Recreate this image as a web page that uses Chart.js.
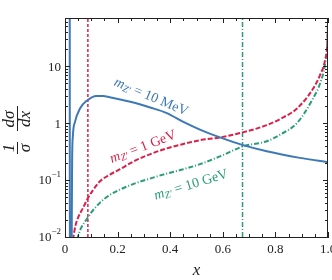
<!DOCTYPE html>
<html>
<head>
<meta charset="utf-8">
<script src="https://cdn.jsdelivr.net/npm/chart.js@4/dist/chart.umd.min.js"></script>
<style>
  html, body { margin: 0; padding: 0; background: #fff; }
</style>
</head>
<body>
<canvas id="chart" width="332" height="280"></canvas>
<script>
// m_Z' = 10 MeV
const blueX = [0.018, 0.0185, 0.024, 0.0255, 0.027, 0.030, 0.038, 0.057, 0.084, 0.12, 0.145, 0.17, 0.21, 0.26, 0.32, 0.387, 0.45, 0.513, 0.589, 0.677, 0.767, 0.893, 1.0];
const blueY = [1000, 0.0001, 0.0001, 0.01, 0.2, 0.6, 1.05, 1.8, 2.5, 3.0, 3.0, 2.85, 2.6, 2.3, 1.9, 1.5, 1.05, 0.77, 0.56, 0.41, 0.32, 0.245, 0.205];
// m_Z' = 1 GeV
const redX = [0.03, 0.04, 0.05, 0.068, 0.087, 0.106, 0.133, 0.171, 0.209, 0.259, 0.32, 0.387, 0.45, 0.513, 0.589, 0.677, 0.767, 0.821, 0.882, 0.943, 0.97, 0.989, 0.998, 1.0];
const redY = [0.009, 0.016, 0.022, 0.032, 0.048, 0.066, 0.095, 0.125, 0.155, 0.21, 0.28, 0.36, 0.43, 0.5, 0.56, 0.69, 0.92, 1.2, 1.8, 4.0, 7.0, 13, 28, 60];
// m_Z' = 10 GeV
const greenX = [0.045, 0.06, 0.084, 0.10, 0.133, 0.171, 0.209, 0.259, 0.32, 0.387, 0.45, 0.513, 0.589, 0.677, 0.767, 0.821, 0.882, 0.943, 0.97, 0.989, 0.998, 1.0];
const greenY = [0.009, 0.014, 0.021, 0.027, 0.04, 0.055, 0.068, 0.085, 0.105, 0.13, 0.155, 0.19, 0.26, 0.39, 0.48, 0.64, 1.0, 2.7, 5.0, 11, 28, 60];
// vertical markers
const redCutX = 0.087;
const greenCutX = 0.675;

const yTicks = [0.01, 0.1, 1, 10];
const yLabels = [['10', '−2'], ['10', '−1'], ['1', ''], ['10', '']];

const BLUE = '#3c79b6';
const RED = '#dc1f48';
const GREEN = '#2a9d78';
const SERIF = '"Liberation Serif", "DejaVu Serif", serif';

function pts(xs, ys) { return xs.map((x, i) => ({ x: x, y: ys[i] })); }

const framePlugin = {
  id: 'frame',
  afterDraw(chart) {
    const ctx = chart.ctx;
    const a = chart.chartArea;
    const sx = chart.scales.x, sy = chart.scales.y;
    ctx.save();
    ctx.strokeStyle = '#222';
    ctx.lineWidth = 1;
    ctx.beginPath();
    ctx.moveTo(a.left, a.top + 0.5); ctx.lineTo(a.right, a.top + 0.5);
    ctx.moveTo(a.right - 0.5, a.top); ctx.lineTo(a.right - 0.5, a.bottom);
    // x ticks
    for (let i = 0; i <= 20; i++) {
      const v = i * 0.05;
      const px = Math.round(sx.getPixelForValue(v)) + 0.5;
      const len = i % 4 === 0 ? 5 : 3;
      ctx.moveTo(px, a.bottom); ctx.lineTo(px, a.bottom - len);
      ctx.moveTo(px, a.top); ctx.lineTo(px, a.top + len);
    }
    // y ticks
    for (let e = -2; e <= 1; e++) {
      for (let m = 1; m <= 9; m++) {
        const v = m * Math.pow(10, e);
        if (v > sy.max) break;
        const py = Math.round(sy.getPixelForValue(v)) + 0.5;
        const len = m === 1 ? 5 : 3;
        ctx.moveTo(a.left, py); ctx.lineTo(a.left + len, py);
        ctx.moveTo(a.right, py); ctx.lineTo(a.right - len, py);
      }
    }
    ctx.stroke();

    // y tick labels
    ctx.fillStyle = '#222';
    ctx.textBaseline = 'middle';
    yTicks.forEach((v, i) => {
      const py = sy.getPixelForValue(v);
      const [base, sup] = yLabels[i];
      let x = a.left - 4;
      ctx.textAlign = 'right';
      if (sup) {
        ctx.font = '9px ' + SERIF;
        ctx.fillText(sup, x, py - 5);
        x -= ctx.measureText(sup).width;
      }
      ctx.font = '13px ' + SERIF;
      ctx.fillText(base, x, py + 1);
    });

    // x title
    ctx.textAlign = 'center';
    ctx.font = 'italic 17px ' + SERIF;
    ctx.fillText('x', (a.left + a.right) / 2, 271);

    // y title: 1/σ dσ/dx, rotated
    ctx.save();
    ctx.translate(17, 127);
    ctx.rotate(-Math.PI / 2);
    ctx.font = 'italic 17px ' + SERIF;
    ctx.textBaseline = 'alphabetic';
    ctx.fillText('1', -21, -3);
    ctx.fillText('σ', -21, 13);
    ctx.fillText('dσ', 8, -3);
    ctx.fillText('dx', 8, 13);
    ctx.lineWidth = 1;
    ctx.beginPath();
    ctx.moveTo(-27, 0.5); ctx.lineTo(-15, 0.5);
    ctx.moveTo(-4, 0.5); ctx.lineTo(21, 0.5);
    ctx.stroke();
    ctx.restore();

    // curve labels
    drawLabel(ctx, '10 MeV', BLUE, 151, 97, 23);
    drawLabel(ctx, '1 GeV', RED, 143, 147, -21);
    drawLabel(ctx, '10 GeV', GREEN, 191, 185, -17);
    ctx.restore();
  }
};

function drawLabel(ctx, value, color, cx, cy, deg) {
  const parts = [
    { t: 'm', f: 'italic 14px ' + SERIF, dy: 0 },
    { t: 'Z′', f: 'italic 10px ' + SERIF, dy: 3 },
    { t: ' = ' + value, f: '14px ' + SERIF, dy: 0 }
  ];
  let w = 0;
  parts.forEach(p => { ctx.font = p.f; p.w = ctx.measureText(p.t).width; w += p.w; });
  ctx.save();
  ctx.translate(cx, cy);
  ctx.rotate(deg * Math.PI / 180);
  ctx.fillStyle = color;
  ctx.textAlign = 'left';
  ctx.textBaseline = 'middle';
  let x = -w / 2;
  parts.forEach(p => { ctx.font = p.f; ctx.fillText(p.t, x, p.dy); x += p.w; });
  ctx.restore();
}

new Chart(document.getElementById('chart'), {
  type: 'line',
  data: {
    datasets: [
      { data: pts(blueX, blueY), borderColor: BLUE, borderWidth: 2, cubicInterpolationMode: 'monotone' },
      { data: pts(redX, redY), borderColor: RED, borderWidth: 2, borderDash: [5, 2], cubicInterpolationMode: 'monotone' },
      { data: pts(greenX, greenY), borderColor: GREEN, borderWidth: 2, borderDash: [5, 2, 1, 2], cubicInterpolationMode: 'monotone' },
      { data: [{ x: redCutX, y: 0.01 }, { x: redCutX, y: 70 }], borderColor: RED, borderWidth: 1.5, borderDash: [3, 2] },
      { data: [{ x: greenCutX, y: 0.01 }, { x: greenCutX, y: 70 }], borderColor: GREEN, borderWidth: 1.5, borderDash: [5, 2, 1, 2] }
    ]
  },
  options: {
    responsive: false,
    devicePixelRatio: 1,
    animation: false,
    layout: { padding: { left: 0, top: 18, right: 0, bottom: 0 } },
    elements: { point: { radius: 0 } },
    plugins: { legend: { display: false }, tooltip: { enabled: false } },
    scales: {
      x: {
        type: 'linear', min: 0, max: 1,
        grid: { display: false, drawTicks: false },
        border: { display: true, color: '#222', width: 1 },
        ticks: { stepSize: 0.2, padding: 5, color: '#222', font: { family: SERIF, size: 13 }, maxRotation: 0 },
        afterFit(s) { s.height = 43; s.paddingRight = 4; s.paddingLeft = 0; }
      },
      y: {
        type: 'logarithmic', min: 0.01, max: 70,
        grid: { display: false, drawTicks: false },
        border: { display: true, color: '#222', width: 1 },
        ticks: { display: false },
        afterFit(s) { s.width = 65; }
      }
    }
  },
  plugins: [framePlugin]
});
</script>
</body>
</html>
